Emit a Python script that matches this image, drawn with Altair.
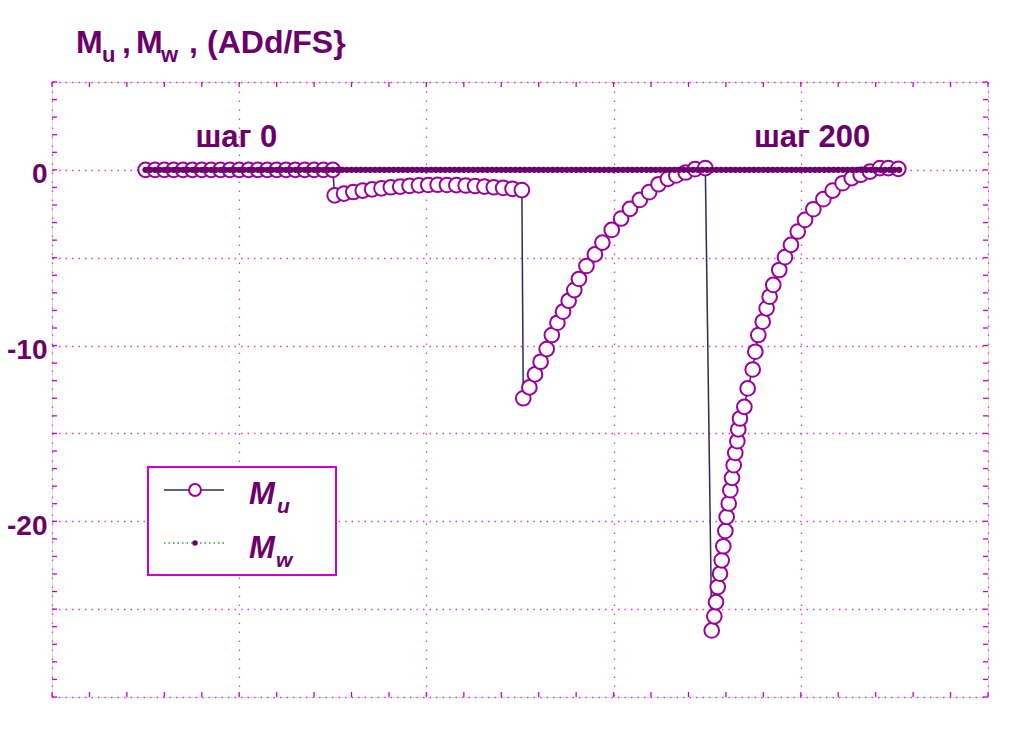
import altair as alt
import pandas as pd

# ---------------- data ----------------
mu_x = [
    # snapshot segment 1 (flat)
    10, 11, 12, 13, 14, 15, 16, 17, 18, 19, 20, 21, 22, 23, 24, 25, 26, 27, 28, 29, 30,
    # segment 2
    30.2, 31.2, 32.2, 33.2, 34.2, 35.2, 36.2, 37.2, 38.2, 39.2, 40.2, 41.2, 42.2, 43.2,
    44.2, 45.2, 46.2, 47.2, 48.2, 49.2, 50.2,
    # segment 3
    50.35, 51.0, 51.6, 52.2, 52.85, 53.4, 54.0, 54.6, 55.2, 55.8, 56.3, 57.1, 58.0, 58.8,
    59.8, 60.8, 61.75, 62.8, 63.8, 64.8, 65.8, 66.7, 67.7, 68.7, 69.8,
    # segment 4
    70.48, 70.76, 70.94, 71.12, 71.37, 71.55, 71.72, 71.94, 72.08, 72.30, 72.47, 72.65,
    72.83, 73.00, 73.22, 73.32, 73.50, 73.97, 74.32, 74.86, 75.14, 75.46, 75.93, 76.35,
    76.67, 77.06, 77.70, 78.31, 78.95, 79.67, 80.45, 81.34, 82.41, 83.40, 84.47, 85.44,
    86.40, 87.39, 88.46, 89.35, 90.42,
]
mu_y = [
    0, 0, 0, 0, 0, 0, 0, 0, 0, 0, 0, 0, 0, 0, 0, 0, 0, 0, 0, 0, 0,
    -1.45, -1.35, -1.26, -1.18, -1.11, -1.05, -0.99, -0.95, -0.91, -0.88, -0.86, -0.85,
    -0.86, -0.87, -0.89, -0.92, -0.95, -0.99, -1.03, -1.08, -1.15,
    -13.0, -12.38, -11.64, -10.92, -10.2, -9.4, -8.7, -8.07, -7.45, -6.84, -6.21, -5.47,
    -4.81, -4.14, -3.42, -2.77, -2.22, -1.71, -1.27, -0.82, -0.51, -0.32, -0.15, 0.04, 0.10,
    -26.21, -25.41, -24.60, -23.74, -22.98, -22.22, -21.42, -20.55, -19.75, -18.99, -18.23,
    -17.53, -16.81, -16.11, -15.44, -14.77, -14.15, -13.49, -12.44, -11.36, -10.35, -9.40,
    -8.64, -7.88, -7.22, -6.55, -5.70, -4.97, -4.27, -3.51, -2.85, -2.24, -1.67, -1.18,
    -0.76, -0.47, -0.28, -0.10, 0.10, 0.10, 0.06,
]

mw_x = [
    10, 10.5, 11, 11.5, 12, 12.5, 13, 13.5, 14, 14.5, 15, 15.5, 16, 16.5, 17, 17.5,
    18, 18.5, 19, 19.5, 20, 20.5, 21, 21.5, 22, 22.5, 23, 23.5, 24, 24.5, 25, 25.5,
    26, 26.5, 27, 27.5, 28, 28.5, 29, 29.5, 30, 30.5, 31, 31.5, 32, 32.5, 33, 33.5,
    34, 34.5, 35, 35.5, 36, 36.5, 37, 37.5, 38, 38.5, 39, 39.5, 40, 40.5, 41, 41.5,
    42, 42.5, 43, 43.5, 44, 44.5, 45, 45.5, 46, 46.5, 47, 47.5, 48, 48.5, 49, 49.5,
    50, 50.5, 51, 51.5, 52, 52.5, 53, 53.5, 54, 54.5, 55, 55.5, 56, 56.5, 57, 57.5,
    58, 58.5, 59, 59.5, 60, 60.5, 61, 61.5, 62, 62.5, 63, 63.5, 64, 64.5, 65, 65.5,
    66, 66.5, 67, 67.5, 68, 68.5, 69, 69.5, 70, 70.5, 71, 71.5, 72, 72.5, 73, 73.5,
    74, 74.5, 75, 75.5, 76, 76.5, 77, 77.5, 78, 78.5, 79, 79.5, 80, 80.5, 81, 81.5,
    82, 82.5, 83, 83.5, 84, 84.5, 85, 85.5, 86, 86.5, 87, 87.5, 88, 88.5, 89, 89.5,
    90, 90.5,
]
mw_y = [0.0] * len(mw_x)   # M_w stays at zero everywhere

x_grid = [0, 20, 40, 60, 80, 100]
y_grid = [-30, -25, -20, -15, -10, -5, 0, 5]
x_minor = [0, 4, 8, 12, 16, 20, 24, 28, 32, 36, 40, 44, 48, 52, 56, 60, 64, 68, 72,
           76, 80, 84, 88, 92, 96, 100]
y_minor = [-30, -29, -28, -27, -26, -25, -24, -23, -22, -21, -20, -19, -18, -17, -16,
           -15, -14, -13, -12, -11, -10, -9, -8, -7, -6, -5, -4, -3, -2, -1, 0, 1, 2,
           3, 4, 5]

step_labels = ["шаг 0", "шаг 200"]
step_x = [19.7, 81.2]
step_y = [1.3, 1.3]

# ---------------- styling ----------------
W, H = 936, 615
FONT = "Liberation Sans"
TXT = "#6b006b"
FRAME = "#cc00cc"
GRID = "#d040d0"
CIRC = "#9b009b"
LINE = "#2b2b55"
DOT = "#6b006b"

xs = alt.Scale(domain=[0, 100], nice=False, zero=False)
ys = alt.Scale(domain=[-30, 5], nice=False, zero=False)

ax_x = alt.Axis(values=x_grid, labels=False, ticks=False, domain=False, grid=True,
                gridColor=GRID, gridDash=[1.5, 7.5], gridWidth=1.3, title=None)
ax_y = alt.Axis(values=y_grid,
                labelExpr="(datum.value == 0 || datum.value == -10 || datum.value == -20) ? '' + datum.value : ''",
                ticks=False, domain=False, grid=True, gridColor=GRID,
                gridDash=[1.5, 5], gridWidth=1.3, title=None,
                labelFont=FONT, labelFontSize=28, labelFontWeight="bold",
                labelColor=TXT, labelPadding=5, labelBaseline="middle",
                labelAlign="right", labelOffset=5)


def X(field):
    return alt.X(field, type="quantitative", scale=xs, axis=ax_x, title=None)


def Y(field):
    return alt.Y(field, type="quantitative", scale=ys, axis=ax_y, title=None)


df_mu = pd.DataFrame({"x": mu_x, "y": mu_y, "i": list(range(len(mu_x)))})
df_mw = pd.DataFrame({"x": mw_x, "y": mw_y})
df_xt = pd.DataFrame({"x": x_minor})
df_yt = pd.DataFrame({"y": y_minor})
df_step = pd.DataFrame({"x": step_x, "y": step_y, "t": step_labels})
one = pd.DataFrame({"a": [0]})

layers = []

# inner minor ticks
layers.append(alt.Chart(df_xt).mark_rule(color=FRAME, strokeWidth=1.3).encode(
    x=X("x"), y=alt.value(H), y2=alt.value(H - 5)))
layers.append(alt.Chart(df_xt).mark_rule(color=FRAME, strokeWidth=1.3).encode(
    x=X("x"), y=alt.value(0), y2=alt.value(5)))
layers.append(alt.Chart(df_yt).mark_rule(color=FRAME, strokeWidth=1.3).encode(
    y=Y("y"), x=alt.value(0), x2=alt.value(5)))
layers.append(alt.Chart(df_yt).mark_rule(color=FRAME, strokeWidth=1.3).encode(
    y=Y("y"), x=alt.value(W), x2=alt.value(W - 5)))

# M_u line + circles
layers.append(alt.Chart(df_mu).mark_line(color=LINE, strokeWidth=1.5).encode(
    x=X("x"), y=Y("y"), order="i:Q"))
layers.append(alt.Chart(df_mu).mark_point(shape="circle", size=215, fill="white",
                                          fillOpacity=1, stroke=CIRC, strokeWidth=2,
                                          opacity=1).encode(x=X("x"), y=Y("y")))
# M_w dots
layers.append(alt.Chart(df_mw).mark_circle(size=40, color=DOT, opacity=1).encode(
    x=X("x"), y=Y("y")))

# step annotations
layers.append(alt.Chart(df_step).mark_text(font=FONT, fontSize=31, fontWeight="bold",
                                           color=TXT, align="center",
                                           baseline="alphabetic").encode(
    x=X("x"), y=Y("y"), text="t:N"))


def txt(s, px, py, size, italic=False):
    return alt.Chart(one).mark_text(text=s, font=FONT, fontSize=size, fontWeight="bold",
                                    fontStyle="italic" if italic else "normal",
                                    color=TXT, align="left",
                                    baseline="alphabetic").encode(
        x=alt.value(px), y=alt.value(py))


# title with subscripts
layers += [
    txt("M", 24, -29, 32), txt("u", 50, -20, 22),
    txt(",", 70, -29, 32),
    txt("M", 84, -29, 32), txt("w", 109, -20, 22),
    txt(",", 137, -29, 32),
    txt("(ADd/FS}", 155, -29, 32),
]

# legend box
layers.append(alt.Chart(one).mark_rect(fill="white", stroke=FRAME, strokeWidth=2).encode(
    x=alt.value(96), x2=alt.value(284), y=alt.value(385), y2=alt.value(493)))
layers.append(alt.Chart(one).mark_rule(color=LINE, strokeWidth=1.5).encode(
    x=alt.value(112), x2=alt.value(172), y=alt.value(408)))
layers.append(alt.Chart(one).mark_point(shape="circle", size=140, fill="white",
                                        fillOpacity=1, stroke=CIRC, strokeWidth=2,
                                        opacity=1).encode(
    x=alt.value(143), y=alt.value(408)))
layers.append(alt.Chart(one).mark_rule(color="#3a9a3a", strokeWidth=1.5,
                                       strokeDash=[1.5, 3]).encode(
    x=alt.value(112), x2=alt.value(172), y=alt.value(461)))
layers.append(alt.Chart(one).mark_circle(size=30, color=DOT, opacity=1).encode(
    x=alt.value(143), y=alt.value(461)))
layers += [
    txt("M", 197, 422, 31, italic=True), txt("u", 225, 431, 21, italic=True),
    txt("M", 197, 476, 31, italic=True), txt("w", 224, 485, 21, italic=True),
]

chart = alt.layer(*layers).properties(
    width=W, height=H,
    autosize=alt.AutoSizeParams(type="none"),
    padding={"left": 44, "top": 74, "right": 5, "bottom": 20},
).configure_view(stroke=FRAME, strokeWidth=2).configure(background="white")

chart.save("out.html", embed_options={"renderer": "svg", "actions": False})
